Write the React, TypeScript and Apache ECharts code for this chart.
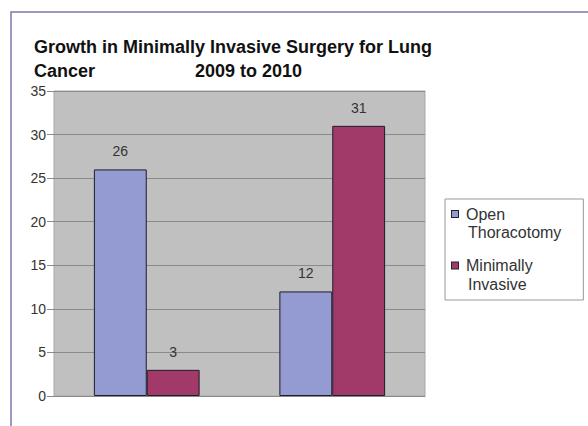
import React, { useEffect, useRef } from "react";
import * as echarts from "echarts";

// Two years of procedures, one group per year
const years = ["2009", "2010"];
const openThoracotomy = [26, 12];
const minimallyInvasive = [3, 31];
const seriesNames = ["Open Thoracotomy", "Minimally Invasive"];
const legendLines: Record<string, string[]> = {
  "Open Thoracotomy": ["Open", "Thoracotomy"],
  "Minimally Invasive": ["Minimally", "Invasive"],
};
const seriesColors = ["#939bd2", "#a23a69"];
const yTicks = { min: 0, max: 35, interval: 5 };

const FONT = "'Liberation Sans', Arial, sans-serif";

export default function App() {
  const ref = useRef<HTMLDivElement>(null);

  useEffect(() => {
    if (!ref.current) return;
    const chart = echarts.init(ref.current, undefined, { renderer: "svg" });

    const rich: Record<string, any> = {
      t: { fontFamily: FONT, fontSize: 16, color: "#333", lineHeight: 18.5 },
      gap: { width: 8, height: 8 },
      pad: { width: 16, height: 8 },
    };
    seriesColors.forEach((c, i) => {
      rich["sq" + i] = {
        width: 6,
        height: 6,
        backgroundColor: c,
        borderColor: "#222",
        borderWidth: 1,
      };
    });

    const titleStyle = { fontFamily: FONT, fontSize: 18, fontWeight: "bold", color: "#111" };

    chart.setOption({
      animation: false,
      backgroundColor: "#ffffff",
      title: [
        { text: "Growth in Minimally Invasive Surgery for Lung", left: 34, top: 38, padding: 0, textStyle: titleStyle },
        { text: "Cancer", left: 34, top: 62, padding: 0, textStyle: titleStyle },
        { text: "2009 to 2010", left: 195, top: 62, padding: 0, textStyle: titleStyle },
      ],
      legend: {
        orient: "vertical",
        left: 445,
        top: 199,
        padding: [7, 22, 8, 1],
        itemWidth: 0,
        itemHeight: 0,
        itemGap: 17,
        borderColor: "#999",
        borderWidth: 1,
        backgroundColor: "#fff",
        data: seriesNames,
        formatter: (name: string) => {
          const i = seriesNames.indexOf(name);
          const [a, b] = legendLines[name];
          return `{sq${i}|}{gap|}{t|${a}}\n{pad|}{t|${b}}`;
        },
        textStyle: { rich },
      },
      grid: {
        left: 54,
        right: 163,
        top: 91,
        bottom: 30,
        show: true,
        backgroundColor: "#c0c0c0",
        borderColor: "#a8a8a8",
        borderWidth: 1,
      },
      xAxis: {
        type: "category",
        data: years,
        axisLine: { show: true, lineStyle: { color: "#8a8a8a", width: 1 } },
        axisTick: { show: false },
        axisLabel: { show: false },
      },
      yAxis: {
        type: "value",
        min: yTicks.min,
        max: yTicks.max,
        interval: yTicks.interval,
        axisLine: { show: false },
        axisTick: { show: true, length: 7, lineStyle: { color: "#8a8a8a" } },
        axisLabel: {
          fontFamily: FONT,
          fontSize: 14,
          color: "#333",
          margin: 8,
        },
        splitLine: { show: true, lineStyle: { color: "#8a8a8a", width: 1 } },
      },
      series: [
        { name: seriesNames[0], values: openThoracotomy },
        { name: seriesNames[1], values: minimallyInvasive },
      ].map((s, i) => ({
        type: "bar",
        name: s.name,
        data: s.values,
        barGap: "0%",
        barCategoryGap: "43%",
        itemStyle: { color: seriesColors[i], borderColor: "#1c1c2c", borderWidth: 1 },
        label: {
          show: true,
          position: "top",
          distance: 11,
          fontFamily: FONT,
          fontSize: 14,
          color: "#333",
        },
      })),
      graphic: [
        {
          type: "polyline",
          shape: { points: [[11, 426], [11, 12], [588, 12]] },
          style: { stroke: "#8374ad", lineWidth: 1.5, fill: "none" },
          silent: true,
        },
      ],
    });

    return () => chart.dispose();
  }, []);

  return (
    <div
      ref={ref}
      style={{ position: "fixed", left: 0, top: 0, width: 588, height: 426 }}
    />
  );
}
